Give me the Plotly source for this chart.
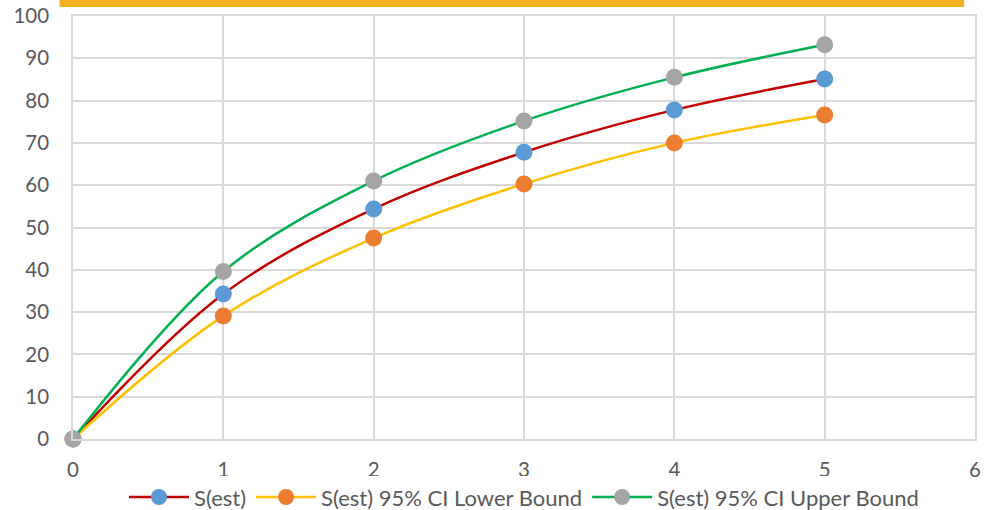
import plotly.graph_objects as go

x_vals = [0, 1, 2, 3, 4, 5]
s_est = [0, 34.3, 54.4, 67.8, 77.8, 85.1]
s_lower = [0, 29.1, 47.5, 60.3, 70.0, 76.6]
s_upper = [0, 39.6, 61.0, 75.2, 85.5, 93.2]
names = ["S(est)", "S(est) 95% CI Lower Bound", "S(est) 95% CI Upper Bound"]
line_colors = ["#C00000", "#FFC000", "#00B050"]
marker_colors = ["#5B9BD5", "#ED7D31", "#A5A5A5"]

fig = go.Figure()
for ys, name, lc, mc in zip([s_est, s_lower, s_upper], names, line_colors, marker_colors):
    fig.add_trace(go.Scatter(
        x=x_vals, y=ys, name=name, mode="lines+markers", cliponaxis=False,
        line=dict(color=lc, width=2.5, shape="spline", smoothing=1.0),
        marker=dict(color=mc, size=17, line=dict(width=0)),
    ))

font_family = "Lato, 'Open Sans', sans-serif"
fig.update_layout(
    width=986, height=510,
    margin=dict(l=73, r=11, t=16, b=71, autoexpand=False),
    paper_bgcolor="white", plot_bgcolor="white",
    font=dict(family=font_family, color="#595959", size=20),
    showlegend=True,
    legend=dict(orientation="h", x=0.5, xanchor="center", y=-0.088, yanchor="top",
                font=dict(size=22, color="#595959"), itemwidth=60,
                traceorder="normal", tracegroupgap=0),
    xaxis=dict(range=[0, 6], dtick=1, showgrid=True, gridcolor="#D9D9D9", gridwidth=1.5,
               zeroline=False, showline=True, linecolor="#D9D9D9", linewidth=1.5,
               mirror=True, ticks="", ticklabelstandoff=12, tickfont=dict(size=20.5),
               automargin=False),
    yaxis=dict(range=[0, 100], dtick=10, showgrid=True, gridcolor="#D9D9D9", gridwidth=1.5,
               zeroline=False, showline=True, linecolor="#D9D9D9", linewidth=1.5,
               mirror=True, ticks="", ticklabelstandoff=18, tickfont=dict(size=20.5),
               automargin=False),
    shapes=[dict(type="rect", xref="paper", yref="paper", x0=-0.015, x1=0.988,
                 y0=1.0213, y1=1.06, fillcolor="#F2B022", line=dict(width=0), layer="above")],
)

fig.write_html("out.html", config={"displayModeBar": False},
               post_script="document.body.style.margin='0';document.body.style.overflow='hidden';")
